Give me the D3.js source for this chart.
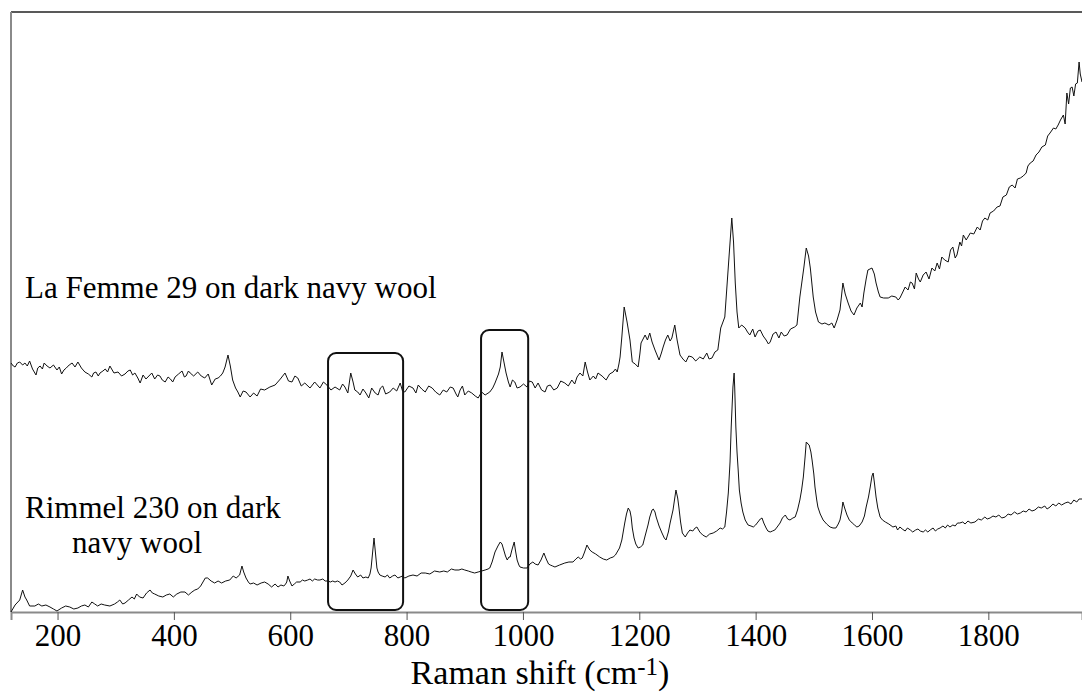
<!DOCTYPE html>
<html>
<head>
<meta charset="utf-8">
<script src="https://d3js.org/d3.v7.min.js"></script>
<style>
  body { margin: 0; background: #fff; }
  svg { display: block; font-family: "Liberation Serif", "Times New Roman", serif; }
</style>
</head>
<body>
<svg width="1082" height="692"></svg>
<script>
// Raman shift (cm-1) ticks
var majorTicks = [200, 400, 600, 800, 1000, 1200, 1400, 1600, 1800];
var minorTicks = [300, 500, 700, 900, 1100, 1300, 1500, 1700, 1900];

// La Femme 29 on dark navy wool  [shift, intensity a.u.]
var laFemme = [
  [120,249],[124,246],[127,245],[131,249],[135,250],[140,247],[144,249],[148,246],[152,251],[157,243],[163,237],[166,244],[170,246],[174,243],[177,249],[182,246],[187,244],
  [193,247],[199,242],[203,245],[207,238],[211,242],[215,244],[220,247],[225,249],[230,245],[235,250],[241,244],[247,240],[253,238],[259,235],[262,239],[266,240],[270,236],[273,239],
  [278,241],[282,243],[286,240],[290,246],[294,242],[297,239],[304,240],[310,236],[316,238],[321,241],[325,242],[329,237],[333,239],[338,234],[342,229],[347,237],[352,233],[357,236],
  [362,239],[367,233],[372,237],[376,236],[380,232],[385,230],[390,235],[394,233],[398,230],[402,235],[408,238],[414,241],[418,235],[421,236],[425,241],[428,239],[434,236],[441,240],
  [447,236],[453,234],[459,238],[465,227],[471,233],[476,234],[480,236],[484,239],[488,245],[493,257],[497,246],
  [501,232],[506,224],[510,220],[514,215],[519,221],[524,220],[531,215],[537,219],[543,216],[549,223],
  [556,222],[565,225],[574,227],[583,233],[591,239],[597,231],[603,230],[608,236],[613,234],[619,226],
  [625,229],[634,224],[642,230],[651,224],[657,230],[663,227],[670,222],[677,225],[685,222],[690,228],
  [694,225],[699,219],[704,239],[708,230],[711,222],[716,220],[720,217],[725,223],[730,219],[735,214],
  [740,224],[746,219],[751,217],[755,224],[759,226],[764,218],[771,220],[777,224],[783,221],[789,229],
  [793,221],[797,220],[804,226],[811,224],[816,219],[820,227],[826,223],[832,220],[838,226],[844,224],
  [850,220],[857,217],[863,222],[869,220],[875,225],[880,224],[885,218],[888,215],[892,222],[896,226],
  [900,217],[906,221],[912,219],[918,216],[923,214],[929,220],[935,217],[943,220],[948,224],[952,229],
  [958,238],[961,245],[964,260],[968,248],[971,239],[975,230],[978,225],[982,232],[986,230],[990,224],
  [995,225],[1001,228],[1007,225],[1011,231],[1016,230],[1021,224],[1026,229],[1032,222],[1038,220],
  [1042,226],[1047,227],[1053,222],[1059,224],[1065,231],[1072,229],[1078,226],[1084,232],[1089,228],
  [1093,235],[1098,239],[1103,236],[1107,250],[1111,240],[1115,232],[1121,236],[1125,233],[1129,239],
  [1136,236],[1143,232],[1149,238],[1155,240],[1159,243],[1162,240],[1165,248],[1167,255],[1170,275],
  [1174,305],[1179,290],[1184,272],[1188,250],[1193,248],[1198,245],[1201,258],[1203,269],[1210,277],
  [1214,272],[1218,279],[1222,270],[1227,262],[1234,252],[1238,259],[1241,265],[1245,272],[1249,277],
  [1253,271],[1256,274],[1261,287],[1265,272],[1270,257],[1275,253],[1280,250],[1285,256],[1291,255],
  [1297,251],[1304,255],[1310,253],[1316,259],[1320,253],[1325,254],[1330,260],[1335,262],[1340,284],
  [1347,295],[1353,345],[1359,394],[1362,370],[1365,329],[1368,300],[1371,284],[1376,287],[1382,284],
  [1386,280],[1390,277],[1395,283],[1399,275],[1404,281],[1408,282],[1413,276],[1418,272],[1422,268],
  [1425,270],[1430,278],[1435,280],[1440,274],[1444,280],[1449,276],[1454,277],[1460,283],[1467,285],
  [1471,287],[1476,315],[1483,345],[1487,364],[1491,356],[1494,344],[1499,315],[1503,300],[1508,290],
  [1514,288],[1519,289],[1526,287],[1531,289],[1535,284],[1540,292],[1545,302],[1550,329],[1554,318],
  [1559,309],[1564,301],[1569,297],[1574,304],[1580,309],[1583,305],[1586,319],[1590,333],[1593,342],
  [1600,344],[1604,338],[1607,329],[1611,320],[1614,315],[1620,314],[1628,314],[1634,316],[1641,315],
  [1645,312],[1648,314],[1653,320],[1657,325],[1662,322],[1666,330],[1669,329],[1673,323],[1676,339],
  [1680,333],[1683,330],[1688,337],[1693,340],[1698,333],[1703,344],[1708,341],[1712,349],[1716,343],
  [1720,355],[1725,352],[1731,350],[1735,362],[1739,365],[1743,354],[1746,357],[1751,370],[1754,366],
  [1757,377],[1762,372],[1769,379],[1775,378],[1781,385],[1786,382],[1790,391],[1794,394],[1799,392],
  [1803,399],[1809,401],[1815,405],[1820,406],[1825,415],[1831,417],[1836,425],[1841,427],[1846,424],
  [1850,433],[1855,434],[1860,436],[1865,439],[1868,446],[1872,449],[1877,451],[1882,457],[1887,460],
  [1892,465],[1898,467],[1902,476],[1906,479],[1912,484],[1916,483],[1920,487],[1924,492],[1929,497],
  [1932,488],[1935,519],[1938,508],[1941,524],[1944,525],[1947,516],[1950,528],[1953,529],[1956,550],
  [1958,538],[1961,530]
];

// Rimmel 230 on dark navy wool  [shift, intensity a.u.]
var rimmel = [
  [120,0],[127,7],[135,12],[140,22],[144,15],[147,12],[152,6],[161,6],[167,8],[173,6],
  [180,7],[187,5],[193,3],[199,1],[207,4],[214,6],[221,5],[228,3],[235,4],[241,6],
  [247,7],[253,5],[259,10],[264,8],[269,6],[275,8],[281,7],[290,6],[298,8],[303,10],
  [307,12],[312,8],[316,9],[322,12],[328,15],[332,13],[336,18],[341,15],[347,14],[353,19],
  [359,22],[363,19],[367,18],[374,16],[381,15],[387,17],[393,18],[399,15],[405,18],[412,20],
  [419,20],[425,17],[431,20],[436,22],[441,23],[446,26],[450,30],[454,34],[458,34],[464,31],
  [470,29],[476,31],[482,29],[489,31],[496,32],[502,36],[507,34],[513,37],[517,46],[520,40],
  [524,34],[528,30],[531,28],[537,29],[543,27],[550,29],[556,30],[562,28],[568,25],[574,28],
  [579,25],[584,27],[589,26],[592,28],[594,30],[596,36],[599,31],[603,26],[607,28],[611,30],
  [617,30],[621,32],[625,31],[630,32],[634,33],[638,31],[642,33],[647,32],[651,32],[656,33],
  [660,31],[665,31],[669,30],[673,31],[677,30],[681,31],[685,30],[689,27],[694,29],[699,32],
  [704,36],[708,42],[712,38],[716,35],[721,37],[725,34],[730,35],[734,34],[737,38],[739,44],
  [742,62],[744,74],[746,62],[749,44],[751,40],[754,37],[758,36],[763,35],[767,37],[771,34],
  [776,36],[780,37],[785,34],[789,35],[793,36],[797,34],[804,36],[811,37],[818,36],[825,39],
  [832,39],[840,38],[848,41],[857,40],[864,41],[870,40],[877,43],[883,42],[890,42],[895,43],
  [900,42],[906,41],[911,40],[917,39],[923,40],[929,41],[935,42],[940,43],[943,44],[947,50],
  [952,60],[957,66],[961,70],[964,68],[966,64],[970,56],[973,52],[976,55],[978,55],[981,62],
  [985,70],[987,62],[990,52],[993,47],[995,45],[1001,44],[1007,44],[1012,48],[1017,50],[1021,48],
  [1026,47],[1031,52],[1036,59],[1040,53],[1044,48],[1047,47],[1051,46],[1055,45],[1063,47],[1072,49],
  [1079,50],[1086,50],[1091,53],[1095,55],[1099,53],[1102,54],[1106,60],[1110,67],[1115,62],[1119,60],
  [1125,58],[1132,55],[1138,53],[1144,52],[1150,54],[1155,55],[1159,57],[1162,60],[1166,64],[1170,72],
  [1175,89],[1178,98],[1181,104],[1184,101],[1186,95],[1188,84],[1191,74],[1194,68],[1198,64],[1202,65],
  [1206,67],[1210,76],[1215,87],[1218,95],[1222,102],[1224,103],[1227,100],[1229,95],[1234,86],[1239,79],
  [1243,74],[1246,72],[1250,80],[1253,89],[1258,102],[1261,114],[1263,122],[1266,114],[1268,105],[1271,90],
  [1274,79],[1279,75],[1283,79],[1287,82],[1292,81],[1296,84],[1299,85],[1304,80],[1309,77],[1315,75],
  [1321,78],[1327,79],[1333,81],[1339,84],[1343,83],[1347,85],[1350,100],[1353,119],[1356,150],[1358,185],
  [1361,225],[1363,239],[1364,225],[1366,185],[1368,160],[1370,142],[1372,122],[1375,109],[1378,100],[1382,92],
  [1387,87],[1392,86],[1396,85],[1400,87],[1404,90],[1408,93],[1411,94],[1414,89],[1418,84],[1421,81],
  [1425,80],[1429,81],[1433,82],[1437,85],[1442,89],[1446,94],[1451,97],[1455,93],[1459,92],[1464,94],
  [1468,95],[1472,102],[1476,112],[1479,122],[1482,135],[1485,155],[1487,170],[1490,168],[1492,167],[1495,160],
  [1497,152],[1500,138],[1502,125],[1505,112],[1507,105],[1511,98],[1516,92],[1522,88],[1528,85],[1533,84],
  [1538,84],[1542,88],[1545,92],[1548,101],[1550,110],[1553,104],[1557,97],[1561,92],[1566,89],[1570,87],
  [1574,85],[1578,86],[1583,90],[1587,96],[1590,105],[1594,115],[1597,125],[1600,136],[1602,139],[1604,130],
  [1607,115],[1610,104],[1614,95],[1618,92],[1623,90],[1629,88],[1636,85],[1641,86],[1644,82],[1648,85],
  [1652,83],[1657,81],[1661,84],[1666,82],[1670,80],[1675,82],[1679,83],[1683,81],[1688,80],[1692,82],
  [1696,80],[1700,82],[1705,84],[1709,81],[1713,83],[1717,84],[1722,86],[1726,84],[1730,87],[1734,85],
  [1739,87],[1743,86],[1747,89],[1751,89],[1756,90],[1760,88],[1765,91],[1770,89],[1777,90],[1783,93],
  [1788,92],[1794,95],[1798,93],[1803,94],[1808,96],[1813,95],[1818,97],[1823,94],[1829,95],[1834,98],
  [1839,97],[1845,100],[1850,98],[1855,99],[1860,101],[1865,100],[1870,103],[1875,101],[1880,102],[1886,105],
  [1891,104],[1897,106],[1901,103],[1906,105],[1911,108],[1916,106],[1921,109],[1926,107],[1932,109],[1937,110],
  [1942,108],[1947,112],[1952,110],[1956,113],[1961,113]
];

// boxed regions [shift from, shift to, top intensity]
var boxes = [[665, 794, 259], [928, 1009, 282]];
var boxFloor = 2;

// curve labels
var labelFemme = "La Femme 29 on dark navy wool";
var labelRimmel = ["Rimmel 230 on dark", "navy wool"];

var svg = d3.select("svg"),
    plotLeft = 11, plotRight = 1082, plotTop = 12, plotBottom = 612;

var x = d3.scaleLinear().domain([120, 1961]).range([plotLeft, plotRight]);
var y = d3.scaleLinear().domain([0, 600]).range([plotBottom, plotTop]);

// frame: top border dark, left axis grey
svg.append("line")
    .attr("x1", plotLeft).attr("x2", plotRight).attr("y1", plotTop).attr("y2", plotTop)
    .attr("stroke", "#222").attr("stroke-width", 1.5);
svg.append("line")
    .attr("x1", plotLeft).attr("x2", plotLeft).attr("y1", plotTop).attr("y2", plotBottom)
    .attr("stroke", "#8a8a8a").attr("stroke-width", 2);

// x axis
var gx = svg.append("g").attr("transform", "translate(0," + plotBottom + ")");
gx.call(d3.axisBottom(x).tickValues(minorTicks).tickSize(6).tickFormat(""));
gx.call(d3.axisBottom(x).tickValues(majorTicks).tickSize(8).tickPadding(4).tickFormat(d3.format("d")));
gx.select(".domain").attr("stroke", "#8a8a8a").attr("stroke-width", 2);
gx.selectAll(".tick line").attr("stroke", "#555");
gx.selectAll(".tick text")
    .attr("fill", "#000")
    .style("font-size", "31px")
    .style("font-family", "'Liberation Serif', 'Times New Roman', serif");

var title = svg.append("text")
    .attr("x", 540).attr("y", 684)
    .attr("text-anchor", "middle")
    .attr("fill", "#000")
    .style("font-size", "34px");
title.append("tspan").text("Raman shift (cm");
title.append("tspan").text("-1").style("font-size", "25px").attr("dy", -9);
title.append("tspan").text(")").attr("dy", 9);

// highlight boxes
svg.selectAll(".box")
  .data(boxes)
  .enter().append("rect")
    .attr("class", "box")
    .attr("x", function(d) { return x(d[0]); })
    .attr("y", function(d) { return y(d[2]); })
    .attr("width", function(d) { return x(d[1]) - x(d[0]); })
    .attr("height", function(d) { return y(boxFloor) - y(d[2]); })
    .attr("rx", 8).attr("ry", 8)
    .attr("fill", "none")
    .attr("stroke", "#111")
    .attr("stroke-width", 2);

// spectra
var line = d3.line()
    .x(function(d) { return x(d[0]); })
    .y(function(d) { return y(d[1]); });

svg.selectAll(".spectrum")
  .data([laFemme, rimmel])
  .enter().append("path")
    .attr("class", "spectrum")
    .attr("d", line)
    .attr("fill", "none")
    .attr("stroke", "#111")
    .attr("stroke-width", 1)
    .attr("stroke-linejoin", "round");

// labels
svg.append("text")
    .attr("x", 25).attr("y", 298)
    .attr("fill", "#000").style("font-size", "31px")
    .text(labelFemme);

var lab2 = svg.append("text")
    .attr("y", 518)
    .attr("fill", "#000").style("font-size", "31px");
lab2.append("tspan").attr("x", 25).text(labelRimmel[0]);
lab2.append("tspan").attr("x", 137).attr("dy", 35).attr("text-anchor", "middle").text(labelRimmel[1]);
</script>
</body>
</html>
